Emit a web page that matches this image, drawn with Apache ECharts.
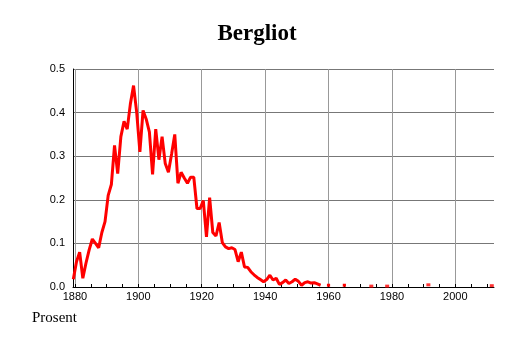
<!DOCTYPE html>
<html><head><meta charset="utf-8">
<script src="https://cdn.jsdelivr.net/npm/echarts@6/dist/echarts.min.js"></script>
<style>html,body{margin:0;padding:0;background:#fff}#c{width:514px;height:343px}</style>
</head><body><div id="c"></div>
<script>
// ---- data ----
const chartTitle = 'Bergliot';
const yAxisTitle = 'Prosent';
const firstYear = 1880;
// share (%) per year, 1880 .. 2012 (null = no value)
const prosent = [
  0.018, 0.058, 0.080, 0.020, 0.055, 0.085, 0.110, 0.100, 0.090, 0.125, // 1880-1889
  0.150, 0.210, 0.235, 0.325, 0.260, 0.345, 0.380, 0.362, 0.420, 0.462, // 1890-1899
  0.400, 0.310, 0.405, 0.385, 0.355, 0.258, 0.362, 0.292, 0.345, 0.283, // 1900-1909
  0.263, 0.305, 0.350, 0.238, 0.263, 0.250, 0.238, 0.252, 0.252, 0.180, // 1910-1919
  0.180, 0.198, 0.115, 0.205, 0.125, 0.117, 0.148, 0.102, 0.092, 0.088, // 1920-1929
  0.090, 0.086, 0.058, 0.080, 0.046, 0.045, 0.035, 0.028, 0.022, 0.017, // 1930-1939
  0.012, 0.017, 0.027, 0.016, 0.020, 0.006, 0.010, 0.016, 0.008, 0.012, // 1940-1949
  0.018, 0.013, 0.004, 0.010, 0.012, 0.009, 0.010, 0.007, 0.004, null,  // 1950-1959
  0.004, 0.004, null, null, null, 0.004, 0.004, null, null, null,         // 1960-1969
  null, null, null, null, 0.002, null, null, null, null, 0.002,           // 1970-1979
  null, null, null, null, null, null, null, null, null, null,             // 1980-1989
  null, null, 0.005, null, null, null, null, null, null, null,            // 1990-1999
  null, null, null, null, null, null, null, null, null, null,             // 2000-2009
  null, null, 0.003                                                       // 2010-2012
];
const xLabelTicks = [1880, 1900, 1920, 1940, 1960, 1980, 2000];
const xMinorTicks = [1880, 1885, 1890, 1895, 1900, 1905, 1910, 1915, 1920, 1925, 1930, 1935, 1940,
  1945, 1950, 1955, 1960, 1965, 1970, 1975, 1980, 1985, 1990, 1995, 2000, 2005, 2010];
const yTicks = [0, 0.1, 0.2, 0.3, 0.4, 0.5];

// ---- build ----
const years = prosent.map((_, i) => firstYear + i);
const lineData = years.map((y, i) => [y, prosent[i]]);
const isolated = lineData.filter((p, i) => p[1] != null && prosent[i - 1] == null && prosent[i + 1] == null);

const chart = echarts.init(document.getElementById('c'), null, { renderer: 'canvas' });
chart.setOption({
  animation: false,
  backgroundColor: '#fff',
  title: [
    { text: chartTitle, left: 'center', top: 23, padding: 0,
      textStyle: { fontFamily: 'Liberation Serif', fontWeight: 'bold', fontSize: 23, color: '#000' } },
    { text: yAxisTitle, left: 32, top: 311, padding: 0,
      textStyle: { fontFamily: 'Liberation Serif', fontWeight: 'normal', fontSize: 15, color: '#000' } }
  ],
  grid: { left: 73, right: 20, top: 69, bottom: 56 },
  xAxis: [
    { type: 'value', position: 'bottom', min: 1879.4, max: 2012.2,
      axisLine: { show: true, onZero: false, lineStyle: { color: '#000', width: 1 } },
      axisTick: { show: false, customValues: xLabelTicks },
      axisLabel: { customValues: xLabelTicks, color: '#000', fontFamily: 'Liberation Sans', fontSize: 11, margin: 4,
        formatter: v => String(v) },
      splitLine: { show: true, lineStyle: { color: '#999', width: 1 } } },
    { type: 'value', position: 'bottom', min: 1879.9, max: 2012.7, show: false },
    { type: 'value', position: 'bottom', min: 1879.4, max: 2012.2,
      axisLine: { show: false },
      axisTick: { show: true, inside: true, length: 3, customValues: xMinorTicks, lineStyle: { color: '#000' } },
      axisLabel: { show: false }, splitLine: { show: false } }
  ],
  yAxis: {
    type: 'value', min: yTicks[0], max: yTicks[yTicks.length - 1], interval: 0.1,
    axisLine: { show: true, lineStyle: { color: '#000', width: 1 } },
    axisTick: { show: false },
    axisLabel: { color: '#000', fontFamily: 'Liberation Sans', fontSize: 11, margin: 8,
      formatter: v => v.toFixed(1) },
    splitLine: { show: true, lineStyle: { color: '#777', width: 1 } }
  },
  series: [
    { type: 'line', xAxisIndex: 1, data: lineData, showSymbol: false, connectNulls: false,
      lineStyle: { color: '#ff0000', width: 3 }, itemStyle: { color: '#ff0000' }, z: 5 },
    { type: 'scatter', xAxisIndex: 1, data: isolated, symbol: 'rect', symbolSize: [4, 3],
      itemStyle: { color: '#ff0000' }, z: 5 }
  ]
});
</script></body></html>
